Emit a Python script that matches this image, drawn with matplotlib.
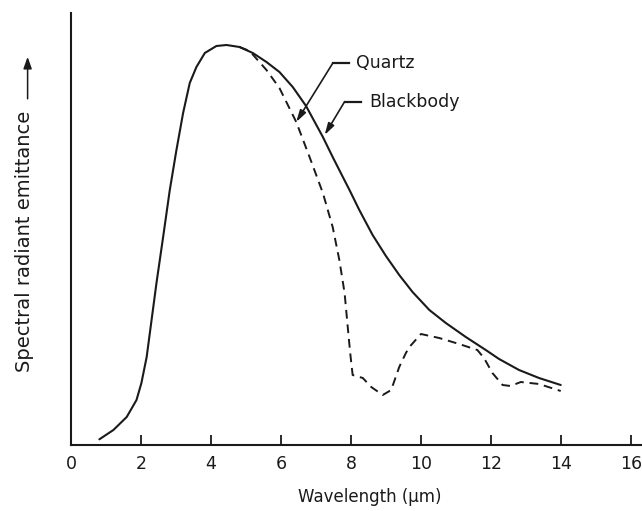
import matplotlib
matplotlib.use("Agg")
import matplotlib.pyplot as plt

# values (y in arbitrary emittance units)
wl_blackbody = [0.81, 1.21, 1.59, 1.87, 2.01, 2.16, 2.30, 2.44, 2.63, 2.82,
                3.01, 3.20, 3.39, 3.58, 3.82, 4.15, 4.44, 4.81, 5.19, 5.58,
                5.95, 6.33, 6.71, 7.19, 7.47, 7.76, 7.95, 8.23, 8.61, 8.99,
                9.37, 9.75, 10.23, 10.70, 11.27, 11.84, 12.22, 12.79, 13.36, 13.98]
em_blackbody = [5.7, 15, 28, 45, 62, 88, 125, 162, 208, 255,
                295, 332, 362, 378, 392, 399, 400, 398, 392, 383,
                373, 358, 339, 308, 288, 268, 255, 235, 210, 189,
                170, 153, 135, 122, 108, 95, 86, 75, 67, 60]

wl_quartz = [4.81, 5.10, 5.58, 5.95, 6.43, 6.81, 7.19, 7.47, 7.66, 7.81,
             7.90, 7.97, 8.04, 8.33, 8.57, 8.90, 9.14, 9.37, 9.56, 9.66,
             9.99, 10.51, 11.08, 11.60, 11.79, 12.03, 12.32, 12.55, 12.84, 13.36,
             13.98]
em_quartz = [398, 394, 375, 357, 323, 288, 252, 218, 185, 152,
             118, 92, 70, 67, 58, 50, 55, 78, 92, 98,
             111, 107, 101, 95, 87, 72, 60, 59, 63, 61,
             54]

xticks = [0, 2, 4, 6, 8, 10, 12, 14, 16]

INK = "#1a1a1a"
plt.rcParams["font.family"] = "DejaVu Sans"

fig = plt.figure(figsize=(6.42, 5.11), dpi=100)
ax = fig.add_axes([71 / 642, 66 / 511, 571 / 642, 432 / 511])

ax.plot(wl_blackbody, em_blackbody, color=INK, lw=1.5, solid_capstyle="round",
        solid_joinstyle="round")
ax.plot(wl_quartz, em_quartz, color=INK, lw=1.4, linestyle=(0, (4.5, 3)))

ax.set_xlim(0, 16.3)
ax.set_ylim(0, 432)
ax.set_xticks(xticks)
ax.set_yticks([])
ax.tick_params(axis="x", direction="in", length=7, width=1.3, pad=7,
               labelsize=12.5, colors=INK)

for side in ("top", "right"):
    ax.spines[side].set_visible(False)
for side in ("left", "bottom"):
    ax.spines[side].set_linewidth(1.5)
    ax.spines[side].set_color(INK)

ax.set_xlabel("Wavelength (μm)", fontsize=12, color=INK, va="center")
ax.xaxis.set_label_coords(0.524, -0.120)
ax.set_ylabel("Spectral radiant emittance", fontsize=14, color=INK, va="center")
ax.yaxis.set_label_coords(-0.081, 0.472)

# arrow after the y label
ax.annotate("", xy=(-0.076, 0.905), xytext=(-0.076, 0.795),
            xycoords="axes fraction", textcoords="axes fraction",
            arrowprops=dict(arrowstyle="-|>,head_length=0.7,head_width=0.25",
                            color=INK, lw=1.1), annotation_clip=False)

# leader lines to the curves
arrow_kw = dict(arrowstyle="-|>,head_length=0.7,head_width=0.2", color=INK, lw=1.2,
                shrinkA=0, shrinkB=0)
ax.plot([7.47, 7.95], [381.7, 381.7], color=INK, lw=1.6)
ax.annotate("", xy=(6.43, 323), xytext=(7.47, 381.7), arrowprops=arrow_kw)
ax.text(8.14, 381.7, "Quartz", fontsize=12.5, color=INK, ha="left", va="center")

ax.plot([7.81, 8.28], [343.3, 343.3], color=INK, lw=1.6)
ax.annotate("", xy=(7.24, 310), xytext=(7.81, 343.3), arrowprops=arrow_kw)
ax.text(8.52, 343.3, "Blackbody", fontsize=12.5, color=INK, ha="left", va="center")

fig.savefig("out.png", dpi=100)
